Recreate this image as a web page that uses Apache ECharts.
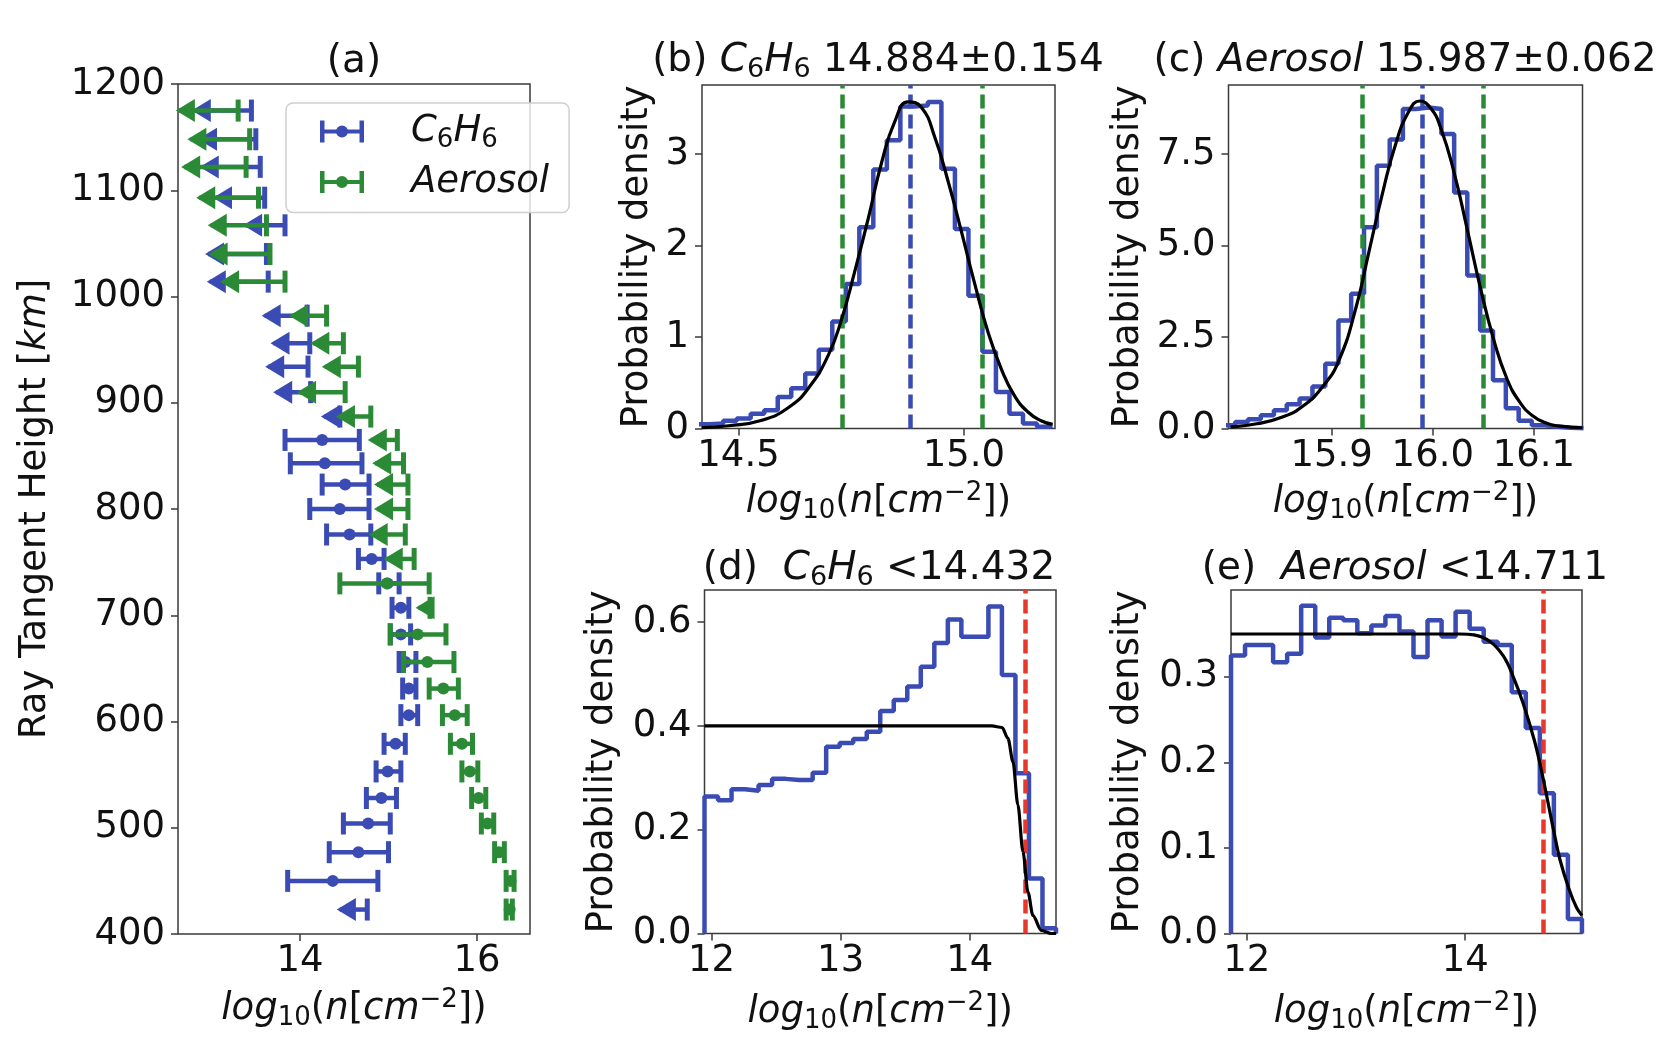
<!DOCTYPE html>
<html><head><meta charset="utf-8">
<script src="https://cdn.jsdelivr.net/npm/echarts@6/dist/echarts.min.js"></script>
<style>html,body{margin:0;padding:0;background:#fff}#chart{width:1672px;height:1044px}</style>
</head><body><div id="chart"></div>
<script>
// ---------- Panel (a): retrieved column densities vs tangent height ----------
const heights = [1175,1148,1122,1093,1067,1040,1014,982,956,934,910,887,865,843,823,800,776,753,730,707,682,656,631,606,579,553,528,504,477,450,423];
const c6h6Low  = [12.81,12.88,12.90,13.05,13.39,12.96,12.98,13.60,13.70,13.64,13.73,14.27,13.83,13.89,14.25,14.11,14.30,14.66,14.89,15.04,15.02,15.12,15.16,15.14,14.95,14.86,14.75,14.49,14.33,13.86,14.45];
const c6h6Mid  = [null,null,null,null,null,null,null,null,null,null,null,null,14.25,14.28,14.51,14.45,14.56,14.81,14.99,15.14,15.14,15.19,15.23,15.23,15.08,14.99,14.92,14.77,14.66,14.37,null];
const c6h6High = [13.45,13.50,13.55,13.60,13.83,13.62,13.64,14.08,14.11,14.09,14.12,14.45,14.67,14.70,14.78,14.78,14.80,14.95,15.12,15.23,15.25,15.31,15.31,15.33,15.19,15.14,15.09,15.02,15.00,14.88,14.76];
const c6h6Limit = [1,1,1,1,1,1,1,1,1,1,1,1,0,0,0,0,0,0,0,0,0,0,0,0,0,0,0,0,0,0,1];
const aerosolLow  = [12.63,12.76,12.69,12.86,12.99,13.00,13.13,13.91,14.15,14.28,14.00,14.44,14.80,14.85,14.87,14.87,14.81,14.98,14.45,15.34,15.02,15.17,15.46,15.61,15.70,15.83,15.94,16.05,16.20,16.33,16.33];
const aerosolMid  = [null,null,null,null,null,null,null,null,null,null,null,null,null,null,null,null,null,null,14.98,null,15.33,15.44,15.62,15.75,15.83,15.92,16.02,16.12,16.25,16.38,16.37];
const aerosolHigh = [13.30,13.43,13.39,13.53,13.62,13.66,13.83,14.30,14.49,14.66,14.51,14.80,15.10,15.17,15.22,15.22,15.19,15.29,15.46,15.47,15.65,15.74,15.79,15.89,15.95,16.01,16.10,16.19,16.31,16.42,16.40];
const aerosolLimit = [1,1,1,1,1,1,1,1,1,1,1,1,1,1,1,1,1,1,0,1,0,0,0,0,0,0,0,0,0,0,0];
const aXTicks = [14, 16];
const aYTicks = [400, 500, 600, 700, 800, 900, 1000, 1100, 1200];

// ---------- Panel (b): C6H6 posterior ----------
const bEdges = [14.406,14.436,14.466,14.496,14.527,14.557,14.587,14.617,14.648,14.678,14.708,14.738,14.768,14.799,14.829,14.859,14.889,14.920,14.950,14.980,15.010,15.041,15.071,15.101,15.131,15.162,15.192];
const bHeights = [0.047,0.055,0.084,0.11,0.16,0.2,0.345,0.44,0.6,0.86,1.17,1.58,2.2,2.83,3.15,3.52,3.53,3.57,2.84,2.18,1.45,0.84,0.4,0.16,0.055,0.02];
const bCurveX = [14.419,14.478,14.552,14.611,14.655,14.699,14.729,14.758,14.788,14.817,14.847,14.876,14.906,14.935,14.965,14.994,15.024,15.053,15.083,15.112,15.142,15.171,15.197];
const bCurveY = [0.01,0.03,0.09,0.23,0.44,0.80,1.20,1.72,2.30,2.90,3.36,3.57,3.51,3.19,2.70,2.16,1.58,1.06,0.65,0.36,0.18,0.085,0.045];
const bMeanLine = [14.884];
const bSigmaLines = [14.730, 15.038];
const bXTicks = [14.5, 15.0];
const bYTicks = [0, 1, 2, 3];

// ---------- Panel (c): Aerosol posterior ----------
const cEdges = [15.7919,15.8046,15.8172,15.8299,15.8429,15.8556,15.8683,15.8810,15.8937,15.9067,15.9193,15.9320,15.9447,15.9574,15.9704,15.9831,15.9958,16.0085,16.0211,16.0341,16.0468,16.0595,16.0722,16.0849,16.0979,16.1106,16.1233,16.136,16.149];
const cHeights = [0.09,0.18,0.25,0.36,0.5,0.66,0.82,1.15,1.77,2.95,3.68,5.5,7.18,7.9,8.73,8.77,8.73,8.05,6.45,4.18,2.68,1.32,0.55,0.21,0.09,0.045,0.02,0.01];
const cCurveX = [15.800,15.826,15.852,15.872,15.891,15.907,15.924,15.937,15.950,15.963,15.976,15.987,15.998,16.008,16.021,16.034,16.047,16.060,16.073,16.086,16.099,16.112,16.124,16.148];
const cCurveY = [0.04,0.13,0.32,0.62,1.14,1.85,3.3,4.85,6.4,7.75,8.65,8.95,8.75,8.2,7.0,5.45,3.85,2.45,1.38,0.72,0.34,0.15,0.07,0.02];
const cMeanLine = [15.987];
const cSigmaLines = [15.925, 16.049];
const cXTicks = [15.9, 16.0, 16.1];
const cYTicks = [0, 2.5, 5.0, 7.5];

// ---------- Panel (d): C6H6 upper limit ----------
const dEdges = [11.946,12.0507,12.1553,12.2600,12.3646,12.4693,12.5739,12.6786,12.7832,12.8879,12.9925,13.0972,13.2018,13.3065,13.4111,13.5158,13.6204,13.7251,13.8297,13.9344,14.0390,14.1437,14.2483,14.3530,14.4576,14.5623,14.6669];
const dHeights = [0.264,0.257,0.278,0.275,0.286,0.298,0.296,0.296,0.31,0.36,0.367,0.375,0.389,0.429,0.45,0.476,0.514,0.56,0.605,0.572,0.572,0.63,0.498,0.309,0.106,0.01];
const dCurveX = [11.946,12.5,13.0,13.5,14.0,14.17,14.25,14.295,14.334,14.372,14.411,14.45,14.488,14.553,14.63,14.667];
const dCurveY = [0.40,0.40,0.40,0.40,0.40,0.40,0.397,0.376,0.331,0.248,0.158,0.08,0.035,0.006,0.0,0.0];
const dLimitLine = [14.432];
const dXTicks = [12, 13, 14];
const dYTicks = [0, 0.2, 0.4, 0.6];

// ---------- Panel (e): Aerosol upper limit ----------
const eEdges = [11.856,11.9845,12.113,12.2415,12.370,12.4985,12.627,12.7555,12.884,13.0125,13.141,13.2695,13.398,13.5265,13.655,13.7835,13.912,14.0405,14.169,14.2975,14.426,14.5545,14.683,14.8115,14.940,15.0685];
const eHeights = [0.325,0.337,0.337,0.317,0.327,0.383,0.346,0.369,0.366,0.351,0.360,0.371,0.353,0.323,0.366,0.347,0.376,0.356,0.341,0.337,0.282,0.240,0.164,0.092,0.017];
const eCurveX = [11.856,12.5,13.0,13.5,13.8,13.95,14.08,14.23,14.35,14.44,14.53,14.63,14.69,14.75,14.81,14.87,14.95,15.02,15.069];
const eCurveY = [0.350,0.350,0.350,0.350,0.350,0.350,0.349,0.341,0.324,0.300,0.269,0.227,0.195,0.158,0.120,0.085,0.052,0.030,0.021];
const eLimitLine = [14.711];
const eXTicks = [12, 14];
const eYTicks = [0, 0.1, 0.2, 0.3];

// ---------- styling ----------
const FONT = 'DejaVu Sans';
const BLUE = '#3a4bb3';
const GREEN = '#2b8a36';
const RED = '#e8382c';
const FRAME = '#3a3a3a';
const TICK_FS = 37;
const NAME_FS = 37;
const TITLE_FS = 39;

function rich(size) {
  return {
    n:   {fontFamily: FONT, fontSize: size, color: '#111', lineHeight: 44},
    it:  {fontFamily: FONT, fontSize: size, fontStyle: 'italic', color: '#111', lineHeight: 44},
    sub: {fontFamily: FONT, fontSize: Math.round(size * 0.7), color: '#111', verticalAlign: 'bottom', lineHeight: 20},
    sup: {fontFamily: FONT, fontSize: Math.round(size * 0.7), color: '#111', verticalAlign: 'top', lineHeight: 20}
  };
}
const XNAME = '{it|log}{sub|10}{n|(}{it|n}{n|[}{it|cm}{sup|−2}{n|])}';
const C6H6 = '{it|C}{sub|6}{it|H}{sub|6}';

function stepData(edges, hts) {
  const d = [[edges[0], 0]];
  for (let i = 0; i < hts.length; i++) d.push([edges[i], hts[i]]);
  d.push([edges[edges.length - 1], hts[hts.length - 1]]);
  d.push([edges[edges.length - 1], 0]);
  return d;
}
function pairs(xs, ys) { return xs.map((x, i) => [x, ys[i]]); }
function errRows(low, mid, high, lim) { return heights.map((h, i) => [h, low[i], mid[i], high[i], lim[i]]); }

function errRender(color) {
  return function (params, api) {
    const h = api.value(0), lo = api.value(1), mid = api.value(2), hi = api.value(3), lim = api.value(4);
    const a = api.coord([lo, h]), b = api.coord([hi, h]);
    const y = a[1];
    const ch = [
      {type: 'line', shape: {x1: a[0], y1: y, x2: b[0], y2: y}, style: {stroke: color, lineWidth: 4.5}},
      {type: 'line', shape: {x1: b[0], y1: y - 11, x2: b[0], y2: y + 11}, style: {stroke: color, lineWidth: 5}}
    ];
    if (lim === 1) {
      ch.push({type: 'polygon', shape: {points: [[a[0] - 3, y], [a[0] + 16, y - 11.5], [a[0] + 16, y + 11.5]]}, style: {fill: color}});
    } else {
      ch.push({type: 'line', shape: {x1: a[0], y1: y - 11, x2: a[0], y2: y + 11}, style: {stroke: color, lineWidth: 5}});
      if (mid != null && !isNaN(mid)) {
        const m = api.coord([mid, h]);
        ch.push({type: 'circle', shape: {cx: m[0], cy: y, r: 6}, style: {fill: color}});
      }
    }
    return {type: 'group', children: ch};
  };
}

const grids = [
  {left: 178, top: 84, width: 352, height: 850},
  {left: 702, top: 85, width: 353, height: 343.5},
  {left: 1228.5, top: 85, width: 354, height: 343.5},
  {left: 704.5, top: 590, width: 351.5, height: 343.5},
  {left: 1231, top: 590, width: 351, height: 343.5}
].map(g => Object.assign(g, {show: true, borderColor: FRAME, borderWidth: 1.5, backgroundColor: 'transparent', containLabel: false, outerBoundsMode: 'none'}));

function xAx(gi, min, max, ticks, fmt, nameGap) {
  return {
    type: 'value', gridIndex: gi, min: min, max: max,
    axisLine: {show: false},
    axisTick: {show: true, length: 7, customValues: ticks, lineStyle: {color: FRAME, width: 1.5}},
    axisLabel: {customValues: ticks, formatter: fmt, fontFamily: FONT, fontSize: TICK_FS, color: '#111', margin: 9},
    splitLine: {show: false},
    name: XNAME, nameLocation: 'middle', nameGap: nameGap,
    nameTextStyle: {fontFamily: FONT, fontSize: NAME_FS, color: '#111', rich: rich(NAME_FS)}
  };
}
function yAx(gi, min, max, ticks, fmt, name, nameGap) {
  return {
    type: 'value', gridIndex: gi, min: min, max: max,
    axisLine: {show: false},
    axisTick: {show: true, length: 7, customValues: ticks, lineStyle: {color: FRAME, width: 1.5}},
    axisLabel: {customValues: ticks, formatter: fmt, fontFamily: FONT, fontSize: TICK_FS, color: '#111', margin: 13},
    splitLine: {show: false},
    name: name, nameLocation: 'middle', nameGap: nameGap,
    nameTextStyle: {fontFamily: FONT, fontSize: NAME_FS, color: '#111', rich: rich(NAME_FS)}
  };
}
const f0 = v => String(v);
const f1 = v => Number(v).toFixed(1);
const PD = '{n|Probability density}';

function vLines(vals, color) {
  return vals.map(v => ({xAxis: v, lineStyle: {color: color, type: [14, 6], width: 4.5}}));
}
function hist(gi, edges, hts, lines) {
  return {
    type: 'line', xAxisIndex: gi, yAxisIndex: gi, data: stepData(edges, hts), step: 'end',
    symbol: 'none', lineStyle: {color: BLUE, width: 4.5}, z: 2, silent: true,
    markLine: {symbol: ['none', 'none'], silent: true, label: {show: false}, animation: false, z: 3, data: lines}
  };
}
function curve(gi, xs, ys, smooth, mono) {
  const s = {
    type: 'line', xAxisIndex: gi, yAxisIndex: gi, data: pairs(xs, ys), smooth: smooth,
    symbol: 'none', lineStyle: {color: '#000', width: 3.2}, z: 5, silent: true
  };
  if (mono) s.smoothMonotone = 'x';
  return s;
}

function title(text, x, y) {
  return {type: 'text', x: x, y: y, z: 10, style: {text: text, fontFamily: FONT, fontSize: TITLE_FS, fill: '#111', align: 'center', verticalAlign: 'middle', lineHeight: 46, rich: rich(TITLE_FS)}};
}

const option = {
  animation: false,
  backgroundColor: '#ffffff',
  grid: grids,
  xAxis: [
    xAx(0, 12.62, 16.6, aXTicks, f0, 53),
    xAx(1, 14.419, 15.202, bXTicks, f1, 52),
    xAx(2, 15.798, 16.148, cXTicks, f1, 52),
    xAx(3, 11.946, 14.667, dXTicks, f0, 57),
    xAx(4, 11.856, 15.069, eXTicks, f0, 57)
  ],
  yAxis: [
    yAx(0, 400, 1200, aYTicks, f0, '{n|Ray Tangent Height [}{it|km}{n|]}', 121),
    yAx(1, 0, 3.755, bYTicks, f0, PD, 43),
    yAx(2, 0, 9.387, cYTicks, f1, PD, 78),
    yAx(3, 0, 0.662, dYTicks, f1, PD, 80),
    yAx(4, 0, 0.4014, eYTicks, f1, PD, 81)
  ],
  legend: {
    orient: 'vertical', left: 286, top: 103,
    data: ['C6H6', 'Aerosol'],
    icon: 'path://M0,0h4.5v9h35v-9h4.5v22h-4.5v-9h-35v9h-4.5zM16,11a6,6 0 1,1 12,0a6,6 0 1,1 -12,0z',
    itemWidth: 44, itemHeight: 22, itemGap: 10,
    padding: [10, 20, 12, 34],
    backgroundColor: 'rgba(255,255,255,0.8)', borderColor: '#cfcfcf', borderWidth: 1.5, borderRadius: 7,
    selectedMode: false,
    formatter: name => name === 'C6H6' ? C6H6 : '{it|Aerosol}',
    textStyle: {fontFamily: FONT, fontSize: 37, color: '#111', padding: [0, 0, 0, 42], rich: rich(37)}
  },
  series: [
    {name: 'C6H6', type: 'custom', xAxisIndex: 0, yAxisIndex: 0, itemStyle: {color: BLUE},
     data: errRows(c6h6Low, c6h6Mid, c6h6High, c6h6Limit), encode: {x: [1, 2, 3], y: 0}, renderItem: errRender(BLUE), z: 2},
    {name: 'Aerosol', type: 'custom', xAxisIndex: 0, yAxisIndex: 0, itemStyle: {color: GREEN},
     data: errRows(aerosolLow, aerosolMid, aerosolHigh, aerosolLimit), encode: {x: [1, 2, 3], y: 0}, renderItem: errRender(GREEN), z: 3},
    hist(1, bEdges, bHeights, vLines(bSigmaLines, GREEN).concat(vLines(bMeanLine, BLUE))),
    curve(1, bCurveX, bCurveY, 0.5, false),
    hist(2, cEdges, cHeights, vLines(cSigmaLines, GREEN).concat(vLines(cMeanLine, BLUE))),
    curve(2, cCurveX, cCurveY, 0.5, false),
    hist(3, dEdges, dHeights, vLines(dLimitLine, RED)),
    curve(3, dCurveX, dCurveY, 0.3, true),
    hist(4, eEdges, eHeights, vLines(eLimitLine, RED)),
    curve(4, eCurveX, eCurveY, 0.4, false)
  ],
  graphic: [
    title('{n|(a)}', 354, 62),
    title('{n|(b) }' + C6H6 + '{n| 14.884±0.154}', 878, 61),
    title('{n|(c) }{it|Aerosol}{n| 15.987±0.062}', 1405, 61),
    title('{n|(d)  }' + C6H6 + '{n| <14.432}', 879, 569),
    title('{n|(e)  }{it|Aerosol}{n| <14.711}', 1405, 569)
  ]
};

const chart = echarts.init(document.getElementById('chart'), null, {renderer: 'canvas', width: 1672, height: 1044});
chart.setOption(option);
</script></body></html>
